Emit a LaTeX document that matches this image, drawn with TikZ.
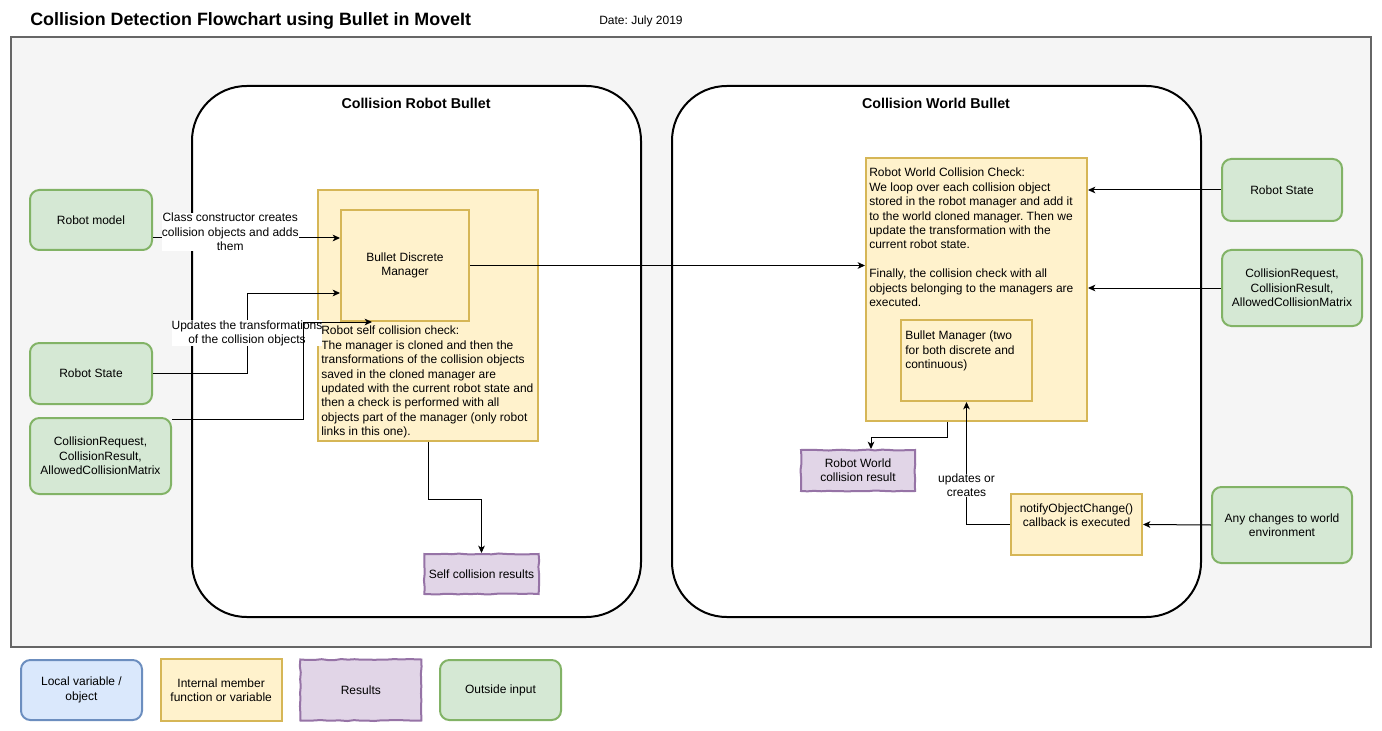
\documentclass[tikz,border=0pt]{standalone}
\usepackage{fontspec}
\setmainfont{Liberation Sans}
\usepackage{tikz}
\usetikzlibrary{shapes, arrows.meta, positioning, decorations.pathmorphing}
\usepackage{xcolor}
\definecolor{inputfill}{HTML}{D5E8D4}
\definecolor{inputline}{HTML}{82B366}
\definecolor{memberfill}{HTML}{FFF2CC}
\definecolor{memberline}{HTML}{D6B656}
\definecolor{resultfill}{HTML}{E1D5E7}
\definecolor{resultline}{HTML}{9673A6}
\definecolor{localfill}{HTML}{DAE8FC}
\definecolor{localline}{HTML}{6C8EBF}
\definecolor{framefill}{HTML}{F5F5F5}
\definecolor{frameline}{HTML}{666666}
\frenchspacing

\begin{document}
\begin{tikzpicture}[x=0.75pt, y=-0.75pt, font=\fontsize{9}{10.8}\selectfont]
        % Define block styles
        \tikzstyle{inputnode} = [rectangle, draw=inputline, fill=inputfill, line width=1.5pt, rounded corners=7pt, text centered, align=center]
        \tikzstyle{membernode} = [rectangle, draw=memberline, fill=memberfill, line width=1.5pt, text centered, align=center]
        \tikzstyle{resultnode} = [rectangle, draw=resultline, fill=resultfill, line width=1.5pt, text centered, align=center, decorate, decoration={random steps, segment length=5pt, amplitude=0.4pt}]
        \tikzstyle{localnode} = [rectangle, draw=localline, fill=localfill, line width=1.5pt, rounded corners=7pt, text centered, align=center]
        \tikzstyle{groupnode} = [rectangle, draw=black, fill=white, line width=1.5pt, rounded corners=41pt, minimum width=0pt]
        \tikzstyle{grouptitle} = [font=\bfseries\fontsize{10.7}{12}\selectfont, inner sep=0pt]
        \tikzstyle{boxtext} = [anchor=north west, align=left, inner sep=0pt]
        \tikzstyle{tag} = [fill=white, inner sep=0pt, align=center]
        \tikzstyle{line} = [draw, line width=0.75pt, -{Stealth[length=5.5pt, width=5pt, inset=1.5pt]}]

        % Page and frame
        \useasboundingbox[fill=white] (0,0) rectangle (1382,731);
        \node[anchor=west, inner sep=0pt, font=\bfseries\fontsize{13.4}{15}\selectfont] (title) at (30,21) {Collision Detection Flowchart using Bullet in MoveIt};
        \node[anchor=west, inner sep=0pt, font=\fontsize{9}{10.8}\selectfont] (date) at (599,21) {Date: July 2019};
        \draw[draw=frameline, fill=framefill, line width=1.5pt] (11,37) rectangle (1371,647);

        % Groups
        \node[groupnode, minimum width=336.75pt, minimum height=398.25pt] (robotgroup) at (416.5,351.5) {};
        \node[groupnode, minimum width=396.75pt, minimum height=398.25pt] (worldgroup) at (936.5,351.5) {};
        \node[grouptitle] (robottitle) at (416,103) {Collision Robot Bullet};
        \node[grouptitle] (worldtitle) at (936,103) {Collision World Bullet};

        % Outside inputs
        \node[inputnode, minimum width=91.5pt, minimum height=45pt] (robotmodel) at (91,220) {Robot model};
        \node[inputnode, minimum width=91.5pt, minimum height=45.75pt] (stateL) at (91,373.5) {Robot State};
        \node[inputnode, minimum width=105.75pt, minimum height=57pt] (requestL) at (100.5,456) {CollisionRequest,\\CollisionResult,\\AllowedCollisionMatrix};
        \node[inputnode, minimum width=90pt, minimum height=46.5pt] (stateR) at (1282,190) {Robot State};
        \node[inputnode, minimum width=105pt, minimum height=57pt] (requestR) at (1292,288) {CollisionRequest,\\CollisionResult,\\AllowedCollisionMatrix};
        \node[inputnode, minimum width=105pt, minimum height=57pt] (changes) at (1282,525) {Any changes to world\\environment};

        % Robot side
        \node[membernode, minimum width=165pt, minimum height=188.25pt] (selfcheck) at (428,315.5) {};
        \node[boxtext] (selftext) at (321,326) {Robot self collision check:\\The manager is cloned and then the\\transformations of the collision objects\\saved in the cloned manager are\\updated with the current robot state and\\then a check is performed with all\\objects part of the manager (only robot\\links in this one).};
        \node[membernode, minimum width=96pt, minimum height=83.25pt] (discrete) at (405,265.5) {Bullet Discrete\\Manager};
        \node[resultnode, minimum width=84.75pt, minimum height=30pt] (selfresult) at (481.5,574) {Self collision results};

        % World side
        \node[membernode, minimum width=165.75pt, minimum height=197.25pt] (worldcheck) at (976.5,289.5) {};
        \node[boxtext] (worldtext) at (869,168) {Robot World Collision Check:\\We loop over each collision object\\stored in the robot manager and add it\\to the world cloned manager. Then we\\update the transformation with the\\current robot state.\\[10.8pt]Finally, the collision check with all\\objects belonging to the managers are\\executed.};
        \node[membernode, minimum width=98.25pt, minimum height=60.75pt] (manager) at (966.5,360.5) {};
        \node[boxtext] (managertext) at (905,331) {Bullet Manager (two\\for both discrete and\\continuous)};
        \node[resultnode, minimum width=85.5pt, minimum height=30.75pt] (worldresult) at (858,470.5) {Robot World\\collision result};
        \node[membernode, minimum width=98.25pt, minimum height=45.75pt] (notify) at (1076.5,524.5) {notifyObjectChange()\\callback is executed\\ \strut};

        % Legend
        \node[localnode, minimum width=90.75pt, minimum height=45pt] (legendlocal) at (81.5,690) {Local variable /\\object};
        \node[membernode, minimum width=90.75pt, minimum height=46.5pt, right=12.5pt of legendlocal] (legendmember) {Internal member\\function or variable};
        \node[resultnode, minimum width=90.75pt, minimum height=45.75pt, right=12.5pt of legendmember] (legendresult) {Results};
        \node[inputnode, minimum width=90.75pt, minimum height=45pt, right=12.5pt of legendresult] (legendinput) {Outside input};

        % Connection points
        \coordinate (modelout) at ([yshift=-13.5pt]robotmodel.east);
        \coordinate (discretein) at ([yshift=-20.625pt]discrete.west);
        \coordinate (requestout) at ([yshift=-1.5pt]requestL.north east);
        \coordinate (discretebottom) at ([xshift=24pt]discrete.south west);
        \coordinate (worldout) at ([xshift=-22pt]worldcheck.south);
        \coordinate (worldresultin) at ([xshift=9.75pt]worldresult.north);

        % Connect nodes with paths
        \path [line] (modelout) -- node[tag, pos=0.413, yshift=4.5pt] {Class constructor creates\\collision objects and adds\\them} (modelout -| discrete.west);
        \path [line] (stateL.east) -- ++(94,0) |- node[tag, pos=0.25] {Updates the transformations\\of the collision objects} (discretein);
        \path [line] (requestout) -- ++(131,0) |- (discretebottom);
        \path [line] (discrete.east) -- (discrete.east -| worldcheck.west);
        \path [line] (selfcheck.south) -- ++(0,57) -| (selfresult.north);
        \path [line] (stateR.west) -- (stateR.west -| worldcheck.east);
        \path [line] (requestR.west) -- (requestR.west -| worldcheck.east);
        \path [line] (changes.west) -- (notify.east);
        \path [line] (notify.west) -| node[tag, pos=0.66] {updates or\\creates} (manager.south);
        \path [line] (worldout) -- ++(0,15) -| (worldresultin);

    \end{tikzpicture}
\end{document}
